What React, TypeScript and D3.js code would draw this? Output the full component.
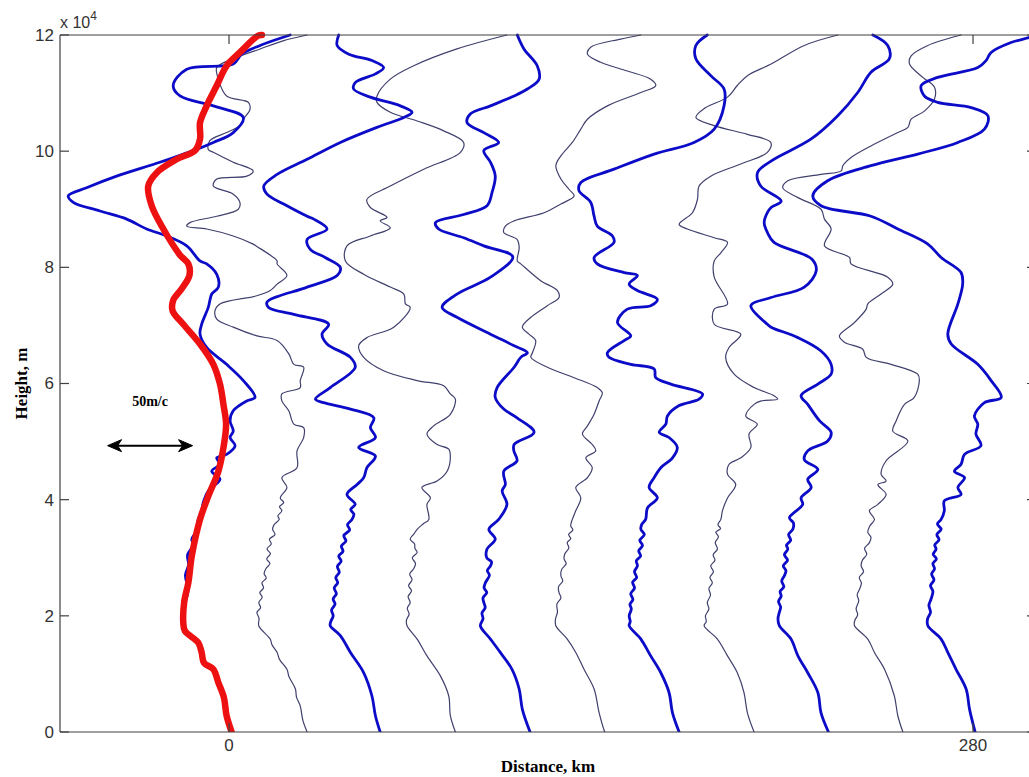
import React from 'react';
import * as d3 from 'd3';

// [height (x10^4 m), distance (km)]
type P = [number, number];

const heightTicks = [0, 2, 4, 6, 8, 10, 12];
const distanceTicks = [0, 280];

const redSmoothed: P[] = [
  [0, 1.0], [0.28, -0.9], [0.59, -1.9], [0.85, -4.0], [1.08, -5.9], [1.19, -9.4], [1.37, -10.3], [1.54, -11.6],
  [1.74, -16.6], [1.88, -17.2], [2.26, -16.8], [2.57, -15.3], [3.03, -14.0], [3.66, -10.9], [4.06, -7.8],
  [4.49, -4.0], [4.95, -1.9], [5.30, -1.1], [5.64, -2.1], [5.99, -3.4], [6.33, -5.9], [6.68, -10.9],
  [7.02, -17.2], [7.25, -21.2], [7.43, -21.0], [7.63, -17.8], [7.86, -14.9], [8.06, -15.3], [8.21, -18.4],
  [8.66, -24.7], [9.06, -29.1], [9.40, -30.4], [9.63, -27.2], [9.86, -19.7], [10.01, -12.8], [10.21, -10.9],
  [10.49, -10.9], [10.78, -8.4], [11.13, -4.6], [11.47, -0.9], [11.70, 4.1], [11.99, 11.0], [12.0, 12.4],
];

const b0: P[] = [
  [12.0, 23.0], [11.82, 11.7], [11.67, 4.8], [11.50, 1.6], [11.41, -15.9], [11.13, -21.0], [10.95, -18.4],
  [10.78, -5.9], [10.58, 5.4], [10.32, 1.6], [10.15, -5.9], [10.01, -13.4], [9.81, -26.0], [9.57, -42.3],
  [9.37, -53.6], [9.23, -60.5], [9.12, -58.6], [8.97, -48.6], [8.83, -38.5], [8.66, -31.0], [8.54, -23.4],
  [8.37, -15.9], [8.11, -10.9], [8.06, -8.4], [7.88, -4.6], [7.66, -4.0], [7.54, -6.5], [7.31, -7.8],
  [7.02, -10.3], [6.85, -10.9], [6.62, -8.4], [6.33, -0.9], [6.05, 5.4], [5.76, 9.8], [5.70, 6.7],
  [5.53, 1.6], [5.36, 0.4], [5.18, 1.6], [5.07, 0.4], [4.93, 2.3], [4.78, -0.9], [4.72, -4.6], [4.61, -3.4],
  [4.49, -6.5], [4.35, -3.4], [4.15, -7.8], [3.95, -9.7], [3.81, -10.3], [3.66, -11.6], [3.45, -12.4],
  [3.32, -14.0], [3.22, -13.4], [3.05, -15.6], [2.88, -15.2], [2.70, -16.4], [2.45, -15.4], [2.19, -16.6],
  [1.88, -17.2], [1.74, -16.6], [1.54, -11.6], [1.37, -10.3],
  [1.19, -9.4], [1.08, -5.9], [0.85, -4.0], [0.59, -1.9], [0.28, -0.9], [0, 1.0],
];

const t28: P[] = [
  [12.0, 29.4], [11.90, 20.3], [11.76, 11.7], [11.59, 1.5], [11.44, -4.6], [11.24, -4.0], [10.95, -0.9],
  [10.84, 7.3], [10.72, 7.9], [10.55, 5.4], [10.44, 4.1], [10.32, -0.9], [10.18, -7.2], [10.03, -7.8],
  [9.98, -5.9], [9.81, 1.6], [9.66, 9.1], [9.57, 6.7], [9.52, -4.6], [9.40, -5.9], [9.26, 1.6], [9.12, 4.1],
  [9.00, 3.5], [8.88, -4.6], [8.77, -14.7], [8.71, -15.9], [8.66, -8.4], [8.54, 1.6], [8.40, 9.1],
  [8.36, 10.5], [8.11, 18.1], [8.06, 18.1], [7.86, 21.8], [7.71, 18.1], [7.60, 15.5], [7.51, 10.5],
  [7.37, -3.4], [7.25, -5.3], [7.11, -4.6], [6.97, 1.6], [6.82, 10.5], [6.74, 18.1], [6.51, 22.5],
  [6.33, 24.4], [6.28, 28.1], [6.05, 26.8], [5.93, 26.8], [5.82, 19.9], [5.70, 19.9], [5.53, 22.5],
  [5.30, 24.4], [5.24, 28.1], [5.07, 28.1], [4.84, 25.6], [4.55, 25.6], [4.38, 19.9], [4.21, 21.8],
  [4.03, 19.3], [3.95, 20.6], [3.88, 19.0], [3.81, 19.9], [3.72, 18.4], [3.66, 18.9], [3.57, 17.0],
  [3.49, 16.4], [3.40, 17.3], [3.32, 15.2], [3.24, 15.9], [3.15, 14.3], [3.07, 15.6], [2.98, 14.2],
  [2.90, 15.4], [2.82, 14.0], [2.73, 13.2], [2.65, 14.0], [2.57, 12.4], [2.48, 13.0], [2.40, 11.6],
  [2.32, 12.5], [2.23, 11.2], [2.14, 11.9], [2.06, 10.5], [1.96, 11.3], [1.83, 11.2], [1.60, 15.5],
  [1.50, 16.2], [1.37, 18.1], [1.25, 19.0], [1.08, 21.8], [0.95, 22.6], [0.74, 25.0], [0.60, 25.4],
  [0.45, 26.8], [0.20, 27.8], [0, 29.4],
];

const b56: P[] = [
  [12.0, 41.3], [11.82, 40.7], [11.67, 45.1], [11.56, 53.8], [11.44, 58.2], [11.33, 55.1], [11.18, 47.5],
  [11.07, 46.9], [10.93, 53.2], [10.78, 64.5], [10.67, 68.9], [10.58, 65.8], [10.41, 55.7], [10.15, 41.9],
  [9.86, 29.4], [9.60, 18.1], [9.40, 13.1], [9.26, 14.3], [9.09, 20.6], [8.88, 29.4], [8.83, 31.9],
  [8.66, 36.9], [8.48, 29.4], [8.31, 30.6], [8.17, 36.2], [8.00, 41.9], [7.86, 40.7], [7.66, 29.4],
  [7.40, 14.3], [7.31, 14.9], [7.19, 24.4], [7.02, 37.5], [6.85, 35.0], [6.68, 36.9], [6.45, 45.7],
  [6.28, 47.5], [5.93, 38.1], [5.73, 32.5], [5.67, 35.6], [5.56, 45.7], [5.41, 54.5], [5.24, 53.2],
  [5.07, 55.1], [4.90, 48.8], [4.75, 55.1], [4.55, 51.9], [4.38, 50.7], [4.26, 48.2], [4.09, 44.4],
  [3.92, 47.5], [3.83, 45.8], [3.75, 47.0], [3.66, 46.3], [3.57, 44.6], [3.48, 45.4], [3.38, 43.2],
  [3.29, 44.0], [3.20, 42.3], [3.11, 42.9], [3.03, 41.3], [2.94, 42.2], [2.85, 40.8], [2.75, 41.5],
  [2.66, 40.2], [2.57, 40.9], [2.48, 39.6], [2.38, 40.4], [2.29, 39.2], [2.20, 39.9], [2.10, 38.6],
  [2.00, 39.2], [1.90, 38.3], [1.83, 38.1],
  [1.66, 41.9], [1.37, 45.7], [1.02, 50.7], [0.62, 53.8], [0.28, 55.1], [0, 56.9],
];

const t84: P[] = [
  [12.0, 104.6], [11.76, 85.8], [11.47, 69.5], [11.24, 60.7], [10.95, 55.7], [10.84, 55.7], [10.67, 60.7],
  [10.52, 70.8], [10.35, 80.8], [10.15, 88.3], [9.98, 87.1], [9.69, 73.3], [9.40, 60.7], [9.17, 51.9],
  [9.03, 53.2], [8.86, 59.5], [8.80, 56.9], [8.68, 60.7], [8.54, 53.2], [8.37, 44.4], [8.11, 43.8],
  [7.88, 50.7], [7.66, 60.7], [7.54, 65.8], [7.37, 66.4], [7.31, 68.2], [6.97, 62.0], [6.79, 51.9],
  [6.65, 48.8], [6.45, 50.7], [6.22, 58.2], [6.05, 70.8], [5.96, 80.8], [5.82, 83.3], [5.73, 85.2],
  [5.47, 83.3], [5.27, 77.0], [5.13, 74.5], [4.95, 78.3], [4.87, 82.7], [4.72, 83.3], [4.49, 82.1],
  [4.32, 78.3], [4.21, 72.6], [4.03, 75.8], [3.92, 74.5], [3.66, 75.2], [3.58, 73.0], [3.49, 70.8],
  [3.41, 69.6], [3.32, 68.2], [3.24, 69.8], [3.16, 70.0], [3.09, 70.8], [3.00, 69.0], [2.90, 70.2],
  [2.81, 69.5], [2.72, 68.0], [2.62, 68.9], [2.52, 67.6], [2.43, 68.7], [2.33, 67.4], [2.23, 68.2],
  [2.13, 67.1], [2.03, 67.8], [1.93, 66.8], [1.83, 67.0], [1.60, 70.8], [1.31, 74.5],
  [0.97, 79.5], [0.62, 82.7], [0.28, 83.3], [0, 85.2],
];

const b112: P[] = [
  [12.0, 108.5], [11.76, 111.0], [11.47, 116.0], [11.24, 116.7], [11.07, 112.3], [10.95, 107.3],
  [10.78, 98.4], [10.64, 90.8], [10.49, 89.6], [10.32, 95.9], [10.15, 101.5], [10.01, 95.9], [9.81, 98.4],
  [9.57, 100.2], [9.29, 99.0], [9.06, 97.1], [8.91, 88.3], [8.77, 77.7], [8.66, 78.9], [8.51, 88.3],
  [8.37, 95.9], [8.18, 106.8], [7.83, 98.4], [7.54, 85.8], [7.31, 80.2], [7.14, 85.8], [6.85, 98.4],
  [6.65, 107.3], [6.53, 112.3], [6.45, 109.8], [6.28, 107.3], [5.93, 100.9], [5.76, 100.2], [5.56, 103.4],
  [5.41, 108.4], [5.16, 114.8], [4.95, 107.3], [4.84, 107.2], [4.67, 108.4], [4.49, 103.4], [4.26, 104.0],
  [4.15, 102.8], [3.92, 104.6], [3.66, 101.5], [3.49, 97.8], [3.32, 100.2], [3.15, 97.1], [3.00, 97.0],
  [2.93, 98.8], [2.86, 98.4], [2.78, 97.2], [2.70, 98.0], [2.57, 96.5], [2.48, 96.0], [2.40, 97.0],
  [2.31, 95.6], [2.23, 95.9], [2.14, 96.4], [2.05, 95.2], [1.95, 95.6], [1.83, 94.6], [1.60, 98.4],
  [1.37, 102.1], [1.08, 106.5], [0.74, 109.2], [0.39, 110.4], [0, 113.3],
];

const t140: P[] = [
  [12.0, 155.0], [11.93, 147.4], [11.79, 136.1], [11.67, 134.9], [11.53, 139.9], [11.38, 149.9],
  [11.24, 158.7], [11.13, 160.6], [11.01, 155.0], [10.78, 142.4], [10.55, 134.9], [10.38, 132.4],
  [10.15, 129.2], [9.92, 124.9], [9.75, 123.0], [9.52, 124.9], [9.34, 128.0], [9.23, 129.9], [9.09, 124.9],
  [8.94, 118.6], [8.80, 107.3], [8.71, 104.0], [8.60, 103.4], [8.48, 108.4], [8.34, 109.2], [8.11, 108.5],
  [8.06, 109.8], [7.77, 117.3], [7.60, 123.6], [7.48, 124.2], [7.34, 119.8], [7.14, 113.6], [6.97, 110.4],
  [6.85, 112.9], [6.74, 115.4], [6.53, 114.2], [6.45, 113.6], [6.28, 119.8], [6.10, 129.9], [5.93, 138.6],
  [5.84, 140.5], [5.70, 139.3], [5.47, 137.4], [5.27, 134.9], [5.13, 133.0], [4.95, 136.7], [4.84, 138.0],
  [4.72, 134.3], [4.55, 136.7], [4.38, 134.9], [4.21, 130.5], [4.03, 132.4], [3.81, 130.5], [3.66, 129.2],
  [3.55, 128.6], [3.48, 129.4], [3.40, 127.8], [3.33, 128.6], [3.26, 127.3], [3.17, 127.9], [3.07, 126.4],
  [2.98, 126.1], [2.90, 126.9], [2.80, 125.2], [2.69, 124.9], [2.60, 125.6], [2.50, 124.0], [2.40, 124.2],
  [2.31, 124.9], [2.20, 123.4], [2.06, 123.6], [1.95, 122.9], [1.83, 123.0],
  [1.60, 127.3], [1.37, 130.5], [1.08, 133.6], [0.74, 137.4], [0.33, 139.3], [0, 141.4],
];

const b168: P[] = [
  [12.0, 180.0], [11.82, 175.7], [11.59, 175.7], [11.30, 181.3], [11.07, 186.3], [10.78, 186.3],
  [10.38, 182.6], [10.15, 175.0], [9.95, 160.0], [9.69, 144.9], [9.46, 132.4], [9.32, 131.7], [9.12, 136.1],
  [8.88, 137.4], [8.71, 138.6], [8.54, 144.3], [8.43, 144.9], [8.17, 137.4], [8.06, 138.6], [7.91, 148.7],
  [7.86, 153.7], [7.71, 150.6], [7.60, 153.7], [7.45, 161.2], [7.34, 158.7], [7.28, 149.9], [7.05, 146.2],
  [6.82, 151.2], [6.74, 148.7], [6.53, 142.4], [6.45, 143.0], [6.33, 151.2], [6.25, 160.0], [6.10, 160.6],
  [5.99, 166.3], [5.82, 178.2], [5.73, 176.9], [5.62, 169.4], [5.44, 165.0], [5.30, 164.4], [5.16, 161.9],
  [5.07, 165.6], [4.90, 168.7], [4.72, 166.9], [4.55, 162.5], [4.38, 160.0], [4.21, 158.1], [4.03, 161.2],
  [3.86, 157.5], [3.66, 156.8], [3.57, 155.3], [3.49, 155.0], [3.40, 156.3], [3.30, 154.6], [3.21, 155.6],
  [3.12, 154.2], [3.03, 154.9], [2.95, 153.3], [2.86, 153.7], [2.76, 152.6], [2.66, 153.4], [2.58, 151.9],
  [2.48, 152.6], [2.38, 151.2], [2.28, 152.0], [2.20, 150.9], [2.12, 151.4], [2.00, 150.6], [1.90, 151.0],
  [1.83, 150.6], [1.60, 155.0], [1.31, 158.7], [1.02, 162.5], [0.68, 165.6], [0.33, 166.9], [0, 169.4],
];

const t196: P[] = [
  [12.0, 229.1], [11.82, 216.5], [11.50, 204.0], [11.30, 195.1], [11.13, 191.3], [10.93, 187.6],
  [10.75, 179.4], [10.58, 175.7], [10.44, 182.6], [10.29, 195.1], [10.15, 203.9], [9.98, 202.6],
  [9.78, 192.6], [9.57, 181.3], [9.40, 176.9], [9.17, 176.3], [8.94, 174.4], [8.74, 169.4], [8.66, 172.5],
  [8.51, 182.6], [8.43, 187.6], [8.25, 185.1], [8.11, 182.6], [7.83, 182.6], [7.37, 187.6], [7.28, 182.6],
  [7.02, 182.6], [6.85, 192.6], [6.62, 188.2], [6.45, 186.9], [6.16, 190.1], [5.93, 197.6], [5.79, 205.1],
  [5.73, 206.5], [5.70, 200.3], [5.64, 197.6], [5.44, 194.5], [5.30, 198.8], [5.13, 195.7], [4.90, 196.4],
  [4.72, 192.6], [4.61, 188.2], [4.44, 187.6], [4.26, 190.7], [4.03, 187.6], [3.81, 185.7], [3.66, 185.1],
  [3.57, 184.0], [3.50, 185.0], [3.44, 183.2], [3.36, 184.2], [3.26, 183.0], [3.15, 183.8], [3.05, 182.2],
  [2.96, 182.9], [2.86, 181.3], [2.76, 182.3], [2.66, 181.0], [2.57, 181.9], [2.47, 180.6], [2.36, 181.2],
  [2.23, 180.0], [2.12, 180.6], [2.00, 179.3], [1.90, 179.6], [1.83, 178.8], [1.60, 183.8],
  [1.31, 187.6], [1.02, 191.3], [0.68, 193.8], [0.33, 195.1], [0, 197.6],
];

const b224: P[] = [
  [12.0, 242.3], [11.82, 247.9], [11.59, 248.5], [11.36, 241.6], [11.01, 236.6], [10.61, 229.1],
  [10.21, 219.1], [9.83, 204.0], [9.63, 198.9], [9.40, 200.1], [9.14, 207.8], [9.03, 204.0], [8.94, 202.6],
  [8.77, 201.4], [8.60, 202.6], [8.43, 205.1], [8.14, 219.4], [7.94, 221.0], [7.66, 216.5], [7.48, 204.0],
  [7.34, 196.4], [7.02, 202.6], [6.97, 204.0], [6.79, 214.1], [6.56, 222.8], [6.33, 226.6], [6.16, 226.6],
  [5.99, 221.6], [5.79, 215.3], [5.64, 217.8], [5.36, 222.2], [5.16, 226.6], [5.01, 225.3], [4.84, 217.8],
  [4.69, 216.5], [4.52, 221.6], [4.35, 217.8], [4.21, 219.1], [4.03, 215.3], [3.92, 215.9], [3.69, 210.9],
  [3.60, 212.4], [3.49, 212.2], [3.40, 210.6], [3.30, 211.4], [3.22, 209.8], [3.15, 210.3], [3.05, 209.0],
  [2.96, 210.2], [2.86, 208.6], [2.78, 209.6], [2.69, 209.0], [2.60, 208.0], [2.50, 208.8], [2.42, 207.4],
  [2.34, 207.8], [2.25, 206.8], [2.15, 207.6], [2.06, 207.1], [1.95, 206.6], [1.83, 207.1], [1.60, 211.5],
  [1.31, 214.1], [1.02, 217.8], [0.68, 221.6], [0.33, 222.8], [0, 225.6],
];

const t252: P[] = [
  [12.0, 275.5], [11.82, 263.0], [11.64, 256.7], [11.50, 256.1], [11.27, 261.1], [11.10, 265.5],
  [10.90, 265.5], [10.69, 261.7], [10.55, 256.7], [10.41, 255.5], [10.32, 251.7], [10.09, 241.6],
  [9.89, 234.1], [9.75, 231.0], [9.66, 230.4], [9.60, 222.8], [9.49, 210.3], [9.37, 208.4], [9.20, 214.1],
  [9.00, 222.8], [8.83, 224.1], [8.66, 226.6], [8.37, 224.1], [8.17, 233.5], [8.06, 234.1], [7.83, 247.9],
  [7.71, 249.8], [7.54, 245.4], [7.37, 240.4], [7.28, 239.8], [7.05, 235.4], [6.82, 229.7], [6.71, 231.6],
  [6.59, 238.5], [6.45, 239.8], [6.33, 249.2], [6.16, 259.2], [6.05, 259.8], [5.76, 257.9], [5.64, 254.2],
  [5.36, 251.1], [5.18, 249.8], [5.01, 255.5], [4.67, 247.3], [4.44, 245.4], [4.32, 247.3], [4.26, 244.2],
  [4.09, 247.3], [3.92, 244.2], [3.81, 241.0], [3.66, 242.9], [3.55, 241.2], [3.44, 240.4], [3.35, 241.6],
  [3.26, 241.0], [3.16, 239.2], [3.06, 240.0], [2.96, 238.4], [2.86, 237.9], [2.76, 238.8], [2.66, 237.2],
  [2.56, 238.0], [2.46, 237.3], [2.36, 236.4], [2.26, 237.0], [2.12, 236.0], [2.02, 236.6], [1.92, 235.5],
  [1.83, 235.4], [1.60, 240.4], [1.37, 242.9], [1.08, 246.7], [0.62, 250.4], [0.28, 251.7], [0, 253.6],
];

const b280: P[] = [
  [12.05, 306.0], [11.96, 301.3], [11.87, 294.3], [11.70, 286.8], [11.56, 284.9], [11.44, 281.8],
  [11.27, 266.7], [11.13, 260.5], [10.95, 261.7], [10.84, 266.7], [10.75, 279.3], [10.61, 285.6],
  [10.38, 284.3], [10.15, 274.3], [9.95, 259.2], [9.75, 241.6], [9.49, 225.3], [9.23, 219.7], [9.06, 222.8],
  [8.88, 241.6], [8.66, 251.7], [8.40, 263.0], [8.17, 268.0], [7.91, 275.5], [7.71, 276.1], [7.37, 274.3],
  [6.85, 270.5], [6.68, 271.8], [6.33, 281.8], [6.05, 286.8], [5.76, 290.6], [5.67, 284.3], [5.44, 280.5],
  [5.30, 281.8], [5.13, 281.1], [4.93, 283.0], [4.78, 276.8], [4.61, 275.5], [4.49, 273.0], [4.38, 276.8],
  [4.21, 274.3], [4.09, 275.5], [3.98, 269.2], [3.81, 269.2], [3.66, 268.0], [3.58, 266.6], [3.49, 268.0],
  [3.40, 266.4], [3.31, 267.2], [3.22, 265.6], [3.15, 266.1], [3.06, 265.0], [2.98, 266.2], [2.90, 264.9],
  [2.81, 265.5], [2.72, 264.4], [2.62, 265.3], [2.52, 264.0], [2.42, 264.9], [2.29, 264.2], [2.18, 263.4],
  [2.06, 264.0], [1.95, 262.9], [1.83, 263.0], [1.60, 268.0], [1.37, 270.5], [1.08, 273.6], [0.74, 277.4],
  [0.39, 278.7], [0, 280.8],
];

const thinProfiles = [t28, t84, t140, t196, t252];
const thickProfiles = [b0, b56, b112, b168, b224, b280];

// 50 m/s scale bar, in chart units (distance km, height x10^4 m)
const scaleBar = { from: -45.7, to: -13.7, height: 4.93, label: '50m/c' };

export default function App() {
  const x = d3.scaleLinear().domain([-63.6, 303.7]).range([60, 1036]);
  const y = d3.scaleLinear().domain([0, 12]).range([732, 35]);
  const line = d3
    .line<P>()
    .x((d) => x(d[1]))
    .y((d) => y(d[0]))
    .curve(d3.curveCatmullRom.alpha(0.5));

  const [x0, x1] = x.range();
  const [yb, yt] = y.range();
  const axisColor = '#404040';
  const tickFont = 'Liberation Sans, Arial, sans-serif';
  const serif = 'Liberation Serif, Times New Roman, serif';

  const ay = y(scaleBar.height);
  const ax0 = x(scaleBar.from);
  const ax1 = x(scaleBar.to);

  return (
    <svg width={1029} height={777} style={{ position: 'absolute', left: 0, top: 0, background: '#fff' }}>
      <defs>
        <clipPath id="plot">
          <rect x={x0} y={yt - 4} width={x1 - x0} height={yb - yt + 4} />
        </clipPath>
      </defs>
      <rect width={1029} height={777} fill="#fff" />
      <g clipPath="url(#plot)" fill="none" strokeLinejoin="round" strokeLinecap="round">
        {thinProfiles.map((p, i) => (
          <path key={'t' + i} d={line(p) || ''} stroke="#40406e" strokeWidth={1.2} />
        ))}
        {thickProfiles.map((p, i) => (
          <path key={'b' + i} d={line(p) || ''} stroke="#0c0cc8" strokeWidth={2.8} />
        ))}
        <path d={line(redSmoothed) || ''} stroke="#ee1111" strokeWidth={6.5} />
      </g>
      {/* frame */}
      <g stroke={axisColor} strokeWidth={1.2} fill="none">
        <line x1={x0} y1={yt} x2={x0} y2={yb} />
        <line x1={x0} y1={yb} x2={x1} y2={yb} />
        <line x1={x0} y1={yt} x2={x1} y2={yt} />
        <line x1={x1} y1={yt} x2={x1} y2={yb} />
        {heightTicks.map((t) => (
          <g key={'hy' + t}>
            <line x1={x0} y1={y(t)} x2={x0 + 9} y2={y(t)} />
            <line x1={x1} y1={y(t)} x2={x1 - 9} y2={y(t)} />
          </g>
        ))}
        {distanceTicks.map((t) => (
          <g key={'dx' + t}>
            <line x1={x(t)} y1={yb} x2={x(t)} y2={yb - 9} />
            <line x1={x(t)} y1={yt} x2={x(t)} y2={yt + 9} />
          </g>
        ))}
      </g>
      <g fontFamily={tickFont} fontSize={17} fill="#333">
        {heightTicks.map((t) => (
          <text key={'hl' + t} x={x0 - 6} y={y(t)} dy="0.35em" textAnchor="end">
            {t}
          </text>
        ))}
        {distanceTicks.map((t) => (
          <text key={'dl' + t} x={x(t)} y={yb + 19} textAnchor="middle">
            {t}
          </text>
        ))}
        <text x={x0} y={28} fontSize={16}>
          x 10
          <tspan fontSize={12} dy={-8}>4</tspan>
        </text>
      </g>
      <text
        fontFamily={serif}
        fontWeight="bold"
        fontSize={17}
        textAnchor="middle"
        transform={`translate(27,${(yt + yb) / 2}) rotate(-90)`}
      >
        Height, m
      </text>
      <text fontFamily={serif} fontWeight="bold" fontSize={17} textAnchor="middle" x={(x0 + x1) / 2} y={772}>
        Distance, km
      </text>
      {/* scale bar */}
      <text fontFamily={serif} fontWeight="bold" fontSize={14} textAnchor="middle" x={(ax0 + ax1) / 2} y={ay - 40}>
        {scaleBar.label}
      </text>
      <line x1={ax0 + 8} y1={ay} x2={ax1 - 8} y2={ay} stroke="#000" strokeWidth={2} />
      <path
        d={`M${ax0},${ay} L${ax0 + 14},${ay - 6} L${ax0 + 10},${ay} L${ax0 + 14},${ay + 6} Z`}
        fill="#000"
        stroke="#000"
        strokeWidth={1}
        strokeLinejoin="round"
      />
      <path
        d={`M${ax1},${ay} L${ax1 - 14},${ay - 6} L${ax1 - 10},${ay} L${ax1 - 14},${ay + 6} Z`}
        fill="#000"
        stroke="#000"
        strokeWidth={1}
        strokeLinejoin="round"
      />
    </svg>
  );
}
